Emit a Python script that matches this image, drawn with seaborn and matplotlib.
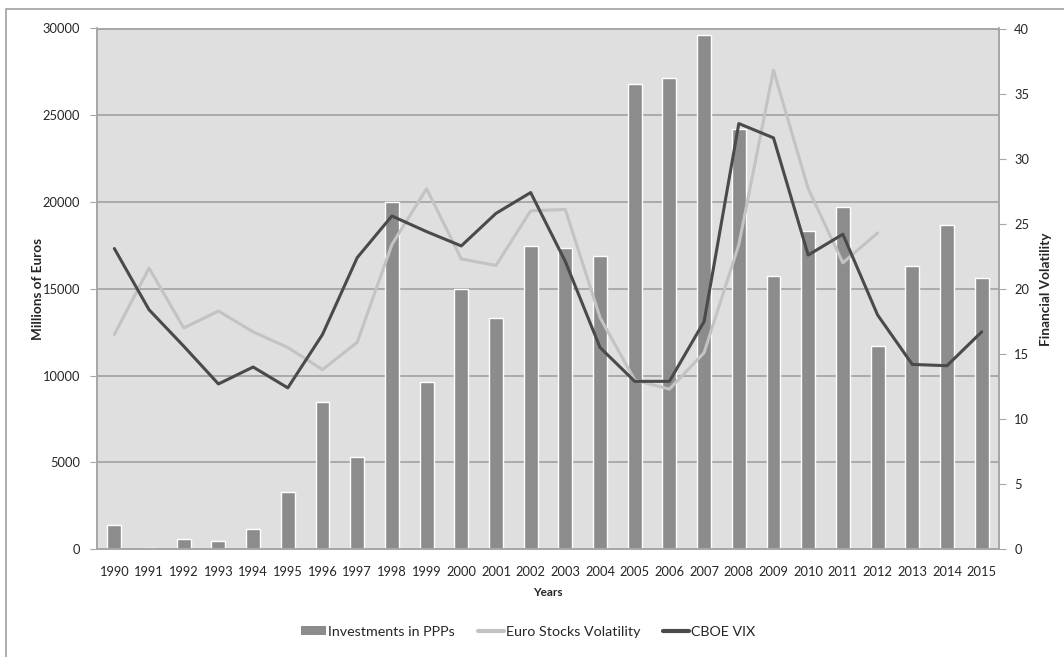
import matplotlib
matplotlib.use('Agg')
import matplotlib.pyplot as plt
import numpy as np
import pandas as pd
import seaborn as sns
from matplotlib.lines import Line2D
from matplotlib.patches import Patch, Rectangle

# Data
years = [str(y) for y in range(1990, 2016)]
ppp_investments = [1400, 50, 620, 480, 1170, 3280, 8500, 5300, 20000, 9620,
                   15000, 13330, 17450, 17380, 16900, 26800, 27150, 29630,
                   24220, 15770, 18320, 19720, 11730, 16300, 18700, 15640]
euro_stocks_vol = [16.5, 21.6, 17.0, 18.3, 16.7, 15.5, 13.8, 15.9, 23.4, 27.7,
                   22.3, 21.8, 26.0, 26.1, 17.8, 13.0, 12.3, 15.1, 23.4, 36.8,
                   27.7, 22.0, 24.3, np.nan, np.nan, np.nan]
cboe_vix = [23.1, 18.4, 15.6, 12.7, 14.0, 12.4, 16.5, 22.4, 25.6, 24.4,
            23.3, 25.8, 27.4, 22.1, 15.5, 12.9, 12.9, 17.5, 32.7, 31.6,
            22.6, 24.2, 18.0, 14.2, 14.1, 16.7]

df = pd.DataFrame({'Years': years, 'PPP': ppp_investments,
                   'Euro': euro_stocks_vol, 'VIX': cboe_vix})
df['pos'] = np.arange(len(df))

sns.set_style('white')
plt.rcParams['font.family'] = ['Lato', 'DejaVu Sans']

bar_col = '#8c8c8c'
light_col = '#c3c3c3'
dark_col = '#4a4a4a'
axis_col = '#a6a6a6'

fig, ax = plt.subplots(figsize=(10.64, 6.57), dpi=100)
fig.subplots_adjust(left=97/1064, right=999/1064, top=1-28.5/657, bottom=1-549.3/657)

ax.set_facecolor('#dfdfdf')
sns.barplot(data=df, x='Years', y='PPP', color=bar_col, width=0.4,
            saturation=1, ax=ax, zorder=2)
ax.set_ylim(0, 30000)
ax.set_yticks(np.arange(0, 30001, 5000))
ax.set_xlim(-0.5, len(years) - 0.5)
ax.yaxis.grid(True, color=axis_col, linewidth=1.3, zorder=0)
ax.set_axisbelow(True)

# category boundary tick marks
ax.set_xticks(np.arange(-0.5, len(years)), minor=True)
ax.tick_params(axis='x', which='major', length=0, labelsize=9.3, pad=12)
ax.tick_params(axis='x', which='minor', length=4, color=axis_col, width=1)
ax.tick_params(axis='y', length=5, color=axis_col, labelsize=9.3, pad=7, left=True)
for s in ax.spines.values():
    s.set_color(axis_col)
    s.set_linewidth(1.2)

ax.set_xlabel('Years', fontsize=8.5, fontweight='bold')
ax.xaxis.set_label_coords(0.5, -0.072)
ax.set_ylabel('Millions of Euros', fontsize=9.8, fontweight='bold')
ax.yaxis.set_label_coords(-0.059, 0.5)

ax2 = ax.twinx()
sns.lineplot(data=df, x='pos', y='Euro', color=light_col, linewidth=2.2, ax=ax2)
sns.lineplot(data=df, x='pos', y='VIX', color=dark_col, linewidth=2.2, ax=ax2)
ax2.set_ylim(0, 40)
ax2.set_yticks(np.arange(0, 41, 5))
ax2.set_xlim(-0.5, len(years) - 0.5)
ax2.tick_params(axis='y', length=5, color=axis_col, labelsize=9.3, pad=6, right=True)
for s in ax2.spines.values():
    s.set_color(axis_col)
    s.set_linewidth(1.2)
ax2.set_ylabel('Financial Volatility', fontsize=9.8, fontweight='bold')
ax2.yaxis.set_label_coords(1.045, 0.5)
ax2.grid(False)

handles = [Patch(facecolor=bar_col, edgecolor='none'),
           Line2D([0], [0], color=light_col, linewidth=3),
           Line2D([0], [0], color=dark_col, linewidth=3)]
labels = ['Investments in PPPs', 'Euro Stocks Volatility', 'CBOE VIX']
fig.legend(handles, labels, loc='center', bbox_to_anchor=(528/1064, 1-632/657),
           ncol=3, frameon=False, fontsize=10.3, handlelength=1.8,
           handletextpad=0.15, columnspacing=1.6, handleheight=0.6)

# outer chart border
fig.patches.append(Rectangle((6/1064, -0.1), 1.2, 1 - 9/657 + 0.1,
                             transform=fig.transFigure, fill=False,
                             edgecolor='#a0a0a0', linewidth=1.2))

fig.savefig('out.png', dpi=100)
